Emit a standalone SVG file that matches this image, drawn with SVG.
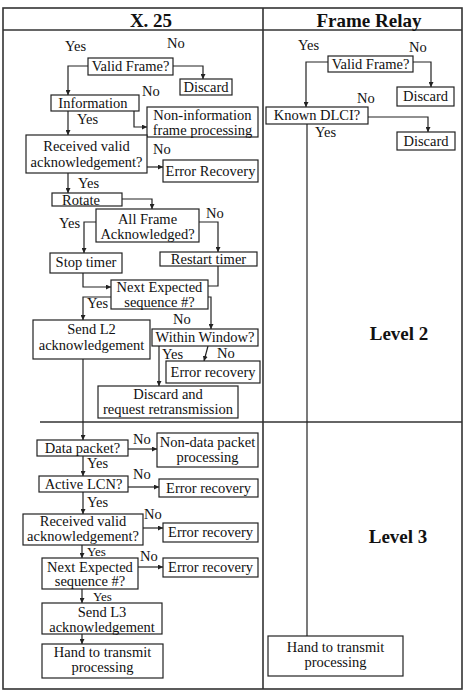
<svg xmlns="http://www.w3.org/2000/svg" width="466" height="692" viewBox="0 0 466 692">
<defs>
<marker id="ah" viewBox="0 0 6 6" refX="6" refY="3" markerWidth="5" markerHeight="5" markerUnits="userSpaceOnUse" orient="auto">
<path d="M0,0 L6,3 L0,6 z" fill="#222"/>
</marker>
<style>
text{font-family:"Liberation Serif","Times New Roman",serif;fill:#111}
.frame{fill:none;stroke:#333;stroke-width:1.6}
.box rect{fill:#fff;stroke:#222;stroke-width:1.2}
.box text,.lbl{font-size:14.5px}
.lbl.s{font-size:13px}
.box text{text-anchor:middle}
.hdr{font-size:19px;font-weight:bold;text-anchor:middle}
#connectors path{fill:none;stroke:#222;stroke-width:1.2}
.arr{marker-end:url(#ah)}
</style>
</defs>
<rect width="466" height="692" fill="#fff"/>

<g id="frame">
<rect class="frame" x="3" y="8" width="459" height="681"/>
<line class="frame" x1="3" y1="30" x2="462" y2="30"/>
<line class="frame" x1="263" y1="8" x2="263" y2="689"/>
<line class="frame" x1="40" y1="422" x2="462" y2="422"/>
<text class="hdr" x="151" y="27" font-family="Liberation Serif, serif">X. 25</text>
<text class="hdr" x="369" y="27" font-family="Liberation Serif, serif">Frame Relay</text>
<text class="hdr" x="399" y="340" font-family="Liberation Serif, serif">Level 2</text>
<text class="hdr" x="398" y="543" font-family="Liberation Serif, serif">Level 3</text>
</g>

<g id="connectors">
<path class="arr" d="M88,66 H68 V95"/>
<path class="arr" d="M173,66 H203 V79"/>
<path class="arr" d="M68,111 V135"/>
<path class="arr" d="M134,111 V127 H147"/>
<path class="arr" d="M68,173 V193"/>
<path class="arr" d="M147,167 H163"/>
<path class="arr" d="M122,199 H152 V209"/>
<path class="arr" d="M96,222 H84 V253"/>
<path class="arr" d="M199,222 H218 V252"/>
<path class="arr" d="M83,273 V287 H111"/>
<path d="M218,266 V286 H208"/>
<path class="arr" d="M111,297 H83 V320"/>
<path class="arr" d="M208,297 H211 V329"/>
<path class="arr" d="M208,346 L204,361"/>
<path class="arr" d="M159,346 V386"/>
<path class="arr" d="M83,359 V440"/>
<path class="arr" d="M128,449 H157"/>
<path class="arr" d="M83,456 V476"/>
<path class="arr" d="M128,487 H159"/>
<path class="arr" d="M83,492 V514"/>
<path class="arr" d="M143,528 H163"/>
<path class="arr" d="M82,545 V558"/>
<path class="arr" d="M138,567 H163"/>
<path class="arr" d="M82,589 V603"/>
<path class="arr" d="M82,634 V644"/>
<path class="arr" d="M328,62 H306 V107"/>
<path class="arr" d="M413,62 H431 V87"/>
<path class="arr" d="M368,117 H428 V132"/>
<path d="M307,124 V636"/>
</g>

<g id="labels" font-family="Liberation Serif, serif">
<text class="lbl" x="65" y="51">Yes</text>
<text class="lbl" x="167" y="48">No</text>
<text class="lbl" x="142" y="96">No</text>
<text class="lbl" x="77" y="124">Yes</text>
<text class="lbl" x="153" y="154">No</text>
<text class="lbl" x="78" y="188">Yes</text>
<text class="lbl" x="59" y="228">Yes</text>
<text class="lbl" x="206" y="218">No</text>
<text class="lbl" x="87" y="308">Yes</text>
<text class="lbl" x="173" y="324">No</text>
<text class="lbl" x="162" y="359">Yes</text>
<text class="lbl" x="217" y="358">No</text>
<text class="lbl" x="133" y="444">No</text>
<text class="lbl" x="87" y="468">Yes</text>
<text class="lbl" x="133" y="479">No</text>
<text class="lbl" x="87" y="507">Yes</text>
<text class="lbl" x="144" y="519">No</text>
<text class="lbl s" x="87" y="555.5">Yes</text>
<text class="lbl" x="140" y="561">No</text>
<text class="lbl s" x="93" y="601">Yes</text>
<text class="lbl" x="298" y="50">Yes</text>
<text class="lbl" x="409" y="52">No</text>
<text class="lbl" x="357" y="103">No</text>
<text class="lbl" x="315" y="137">Yes</text>
</g>

<g id="n-validframe1" class="box"><rect x="88" y="58" width="85" height="17"/><text x="130.5" y="71">Valid Frame?</text></g>
<g id="n-discard1" class="box"><rect x="180" y="79" width="52" height="16"/><text x="206" y="92">Discard</text></g>
<g id="n-information" class="box"><rect x="51" y="95" width="88" height="16"/><text x="93" y="108">Information</text></g>
<g id="n-noninfo" class="box"><rect x="147" y="107" width="111" height="30"/><text x="202.5" y="120">Non-information</text><text x="202.5" y="135">frame processing</text></g>
<g id="n-recvack1" class="box"><rect x="26" y="135" width="121" height="38"/><text x="86.5" y="151">Received valid</text><text x="86.5" y="167">acknowledgement?</text></g>
<g id="n-errrec1" class="box"><rect x="163" y="160" width="95" height="22"/><text x="210.5" y="176">Error Recovery</text></g>
<g id="n-rotate" class="box"><rect x="52" y="193" width="70" height="13"/><text x="81" y="205">Rotate</text></g>
<g id="n-allframe" class="box"><rect x="96" y="209" width="103" height="33"/><text x="147.5" y="224">All Frame</text><text x="147.5" y="239">Acknowledged?</text></g>
<g id="n-stoptimer" class="box"><rect x="50" y="253" width="72" height="20"/><text x="86" y="267">Stop timer</text></g>
<g id="n-restarttimer" class="box"><rect x="160" y="252" width="97" height="14"/><text x="208.5" y="264">Restart timer</text></g>
<g id="n-nextseq1" class="box"><rect x="111" y="280" width="97" height="29"/><text x="159.5" y="292">Next Expected</text><text x="159.5" y="307">sequence #?</text></g>
<g id="n-sendl2" class="box"><rect x="33" y="320" width="117" height="39"/><text x="91.5" y="334">Send L2</text><text x="91.5" y="350">acknowledgement</text></g>
<g id="n-window" class="box"><rect x="152" y="329" width="106" height="17"/><text x="205" y="342">Within Window?</text></g>
<g id="n-errrec2" class="box"><rect x="166" y="361" width="94" height="22"/><text x="213" y="377">Error recovery</text></g>
<g id="n-discardreq" class="box"><rect x="98" y="386" width="140" height="32"/><text x="168" y="399">Discard and</text><text x="168" y="414">request retransmission</text></g>

<g id="n-datapacket" class="box"><rect x="37" y="440" width="91" height="16"/><text x="82.5" y="453">Data packet?</text></g>
<g id="n-nondata" class="box"><rect x="157" y="433" width="101" height="34"/><text x="207.5" y="447">Non-data packet</text><text x="207.5" y="462">processing</text></g>
<g id="n-activelcn" class="box"><rect x="39" y="476" width="89" height="16"/><text x="83.5" y="489">Active LCN?</text></g>
<g id="n-errrec3" class="box"><rect x="159" y="479" width="99" height="18"/><text x="208.5" y="493">Error recovery</text></g>
<g id="n-recvack2" class="box"><rect x="23" y="514" width="120" height="31"/><text x="83" y="526">Received valid</text><text x="83" y="541">acknowledgement?</text></g>
<g id="n-errrec4" class="box"><rect x="163" y="523" width="95" height="19"/><text x="210.5" y="537">Error recovery</text></g>
<g id="n-nextseq2" class="box"><rect x="42" y="558" width="96" height="31"/><text x="90" y="571.5">Next Expected</text><text x="90" y="586">sequence #?</text></g>
<g id="n-errrec5" class="box"><rect x="163" y="558" width="95" height="19"/><text x="210.5" y="572">Error recovery</text></g>
<g id="n-sendl3" class="box"><rect x="42" y="603" width="120" height="31"/><text x="102" y="617">Send L3</text><text x="102" y="632">acknowledgement</text></g>
<g id="n-hand1" class="box"><rect x="42" y="644" width="121" height="34"/><text x="102.5" y="657">Hand to transmit</text><text x="102.5" y="672">processing</text></g>

<g id="n-validframe2" class="box"><rect x="328" y="56" width="85" height="16"/><text x="370.5" y="69">Valid Frame?</text></g>
<g id="n-discard2" class="box"><rect x="397" y="87" width="57" height="19"/><text x="425.5" y="101">Discard</text></g>
<g id="n-dlci" class="box"><rect x="266" y="107" width="102" height="17"/><text x="317" y="120">Known DLCI?</text></g>
<g id="n-discard3" class="box"><rect x="397" y="132" width="58" height="18"/><text x="426" y="146">Discard</text></g>
<g id="n-hand2" class="box"><rect x="268" y="636" width="135" height="40"/><text x="335.5" y="652">Hand to transmit</text><text x="335.5" y="667">processing</text></g>
</svg>
